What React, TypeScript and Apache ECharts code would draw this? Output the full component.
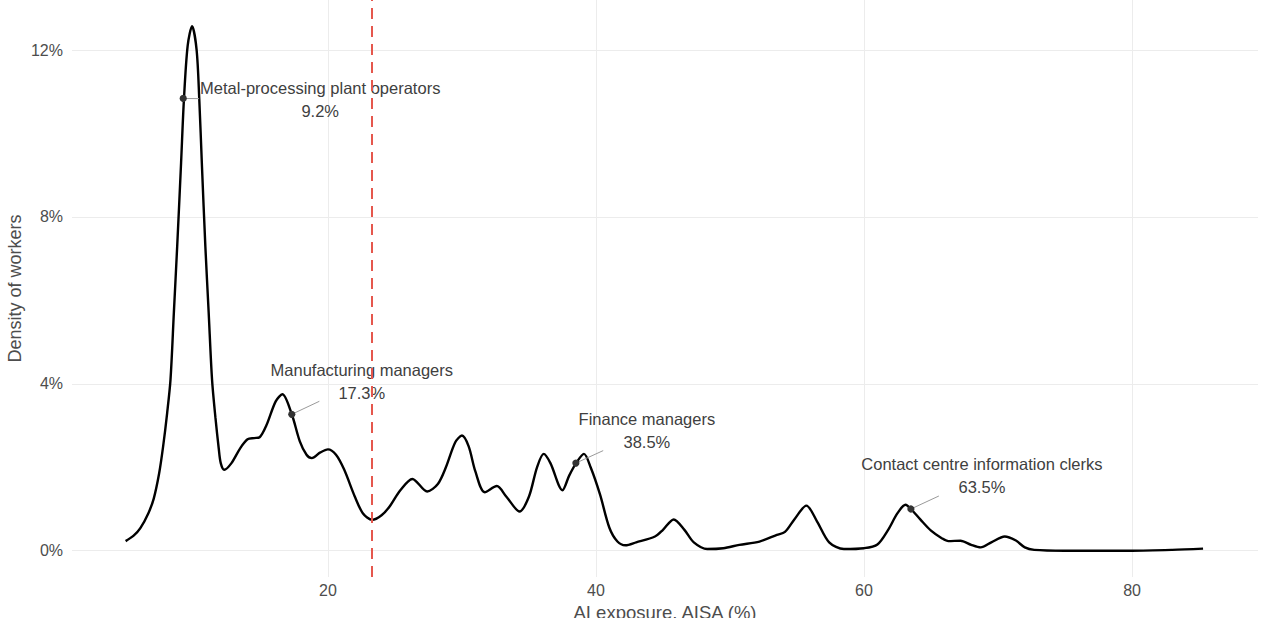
import React, { useEffect, useRef } from "react";
import * as echarts from "echarts";

// AI exposure grid (x) and density of workers in % (y)
const exposure = [
  4.9, 5.5, 6.0, 6.6, 7.0, 7.4, 7.7, 8.0, 8.25, 8.5, 8.75, 9.04, 9.25, 9.53, 9.86, 10.2, 10.4, 10.6,
  10.85, 11.1, 11.35, 11.6, 11.85, 12.0, 12.26, 12.8, 13.46, 14.0, 14.5, 14.9, 15.4, 16.1, 16.6, 17.3,
  17.9, 18.4, 18.8, 19.4, 20.0, 20.6, 21.2, 22.0, 22.6, 23.3, 24.0, 24.6, 25.4, 26.3, 27.4, 28.2,
  28.8, 29.5, 30.0, 30.5, 31.0, 31.7, 32.6, 33.3, 34.3, 35.0, 35.6, 36.1, 36.6, 37.5, 38.0, 38.6,
  39.1, 39.6, 40.3, 41.0, 41.6, 42.2, 43.0, 44.4, 45.0, 45.8, 46.6, 47.3, 48.3, 49.5, 50.7, 52.2,
  53.5, 54.1, 54.8, 55.7, 56.5, 57.4, 58.5, 60.0, 61.0, 61.8, 62.5, 63.1, 63.5, 64.2, 65.0, 65.8,
  66.3, 67.2, 68.0, 68.7, 69.5, 70.5, 71.3, 72.0, 72.7, 75.0, 80.0, 83.0, 85.3,
];
const density = [
  0.23, 0.36, 0.54, 0.9, 1.25, 1.85, 2.5, 3.3, 4.1, 5.7, 7.3, 9.3, 10.8, 12.1, 12.57, 12.0, 10.8, 9.2,
  7.3, 5.7, 4.1, 3.2, 2.45, 2.1, 1.94, 2.1, 2.46, 2.67, 2.7, 2.72, 3.0, 3.58, 3.75, 3.27,
  2.62, 2.3, 2.22, 2.35, 2.43, 2.3, 1.95, 1.3, 0.9, 0.74, 0.85, 1.06, 1.45, 1.72, 1.42, 1.6,
  2.0, 2.6, 2.76, 2.5, 1.9, 1.4, 1.55, 1.3, 0.94, 1.3, 2.0, 2.32, 2.1, 1.45, 1.8, 2.14,
  2.32, 2.0, 1.35, 0.55, 0.22, 0.13, 0.2, 0.34, 0.5, 0.75, 0.5, 0.2, 0.04, 0.06, 0.14, 0.22,
  0.38, 0.45, 0.75, 1.08, 0.7, 0.2, 0.04, 0.06, 0.15, 0.5, 0.9, 1.1, 1.0, 0.75, 0.48, 0.3,
  0.23, 0.24, 0.14, 0.08, 0.2, 0.34, 0.25, 0.08, 0.02, 0.0, 0.0, 0.02, 0.05,
];

// Highlighted occupations
const occupationNames = [
  "Metal-processing plant operators",
  "Manufacturing managers",
  "Finance managers",
  "Contact centre information clerks",
];
const occupationExposure = [9.2, 17.3, 38.5, 63.5];
const occupationDensity = [10.84, 3.27, 2.1, 1.0];

// Mean exposure (dashed line)
const meanExposure = 23.3;

// Axis ticks
const xTicks = [20, 40, 60, 80];
const yTicks = [0, 4, 8, 12];

// Label layout (pixel offsets from point to label centre)
const labelOffsets = [
  [137, 1.5],
  [70, -33],
  [71, -32.5],
  [71, -33],
];

const FONT = "'Liberation Sans', Arial, Helvetica, sans-serif";
const LABEL_SIZE = 16.5;

function measure(text: string): number {
  const c = document.createElement("canvas").getContext("2d");
  if (!c) return text.length * 8;
  c.font = `${LABEL_SIZE}px ${FONT}`;
  return c.measureText(text).width;
}

export default function App() {
  const ref = useRef<HTMLDivElement>(null);
  useEffect(() => {
    if (!ref.current) return;
    const chart = echarts.init(ref.current, null, { renderer: "svg" });
    const curve = exposure.map((x, i) => [x, density[i]]);
    const points = occupationExposure.map((x, i) => [x, occupationDensity[i]]);
    chart.setOption({
      animation: false,
      backgroundColor: "#ffffff",
      grid: { left: 72, right: 5, top: 0, bottom: 41, containLabel: false, outerBoundsMode: "none" },
      xAxis: {
        type: "value",
        min: 0.9,
        max: 89.4,
        name: "AI exposure, AISA (%)",
        nameLocation: "middle",
        nameGap: 24,
        nameTextStyle: { fontFamily: FONT, fontSize: 18.5, color: "#4d4d4d", verticalAlign: "top" },
        axisLine: { show: false },
        axisTick: { show: false, customValues: xTicks },
        axisLabel: {
          customValues: xTicks,
          fontFamily: FONT,
          fontSize: 16,
          color: "#4d4d4d",
          margin: 5,
        },
        splitLine: { show: true, lineStyle: { color: "#ececec", width: 1 } },
      },
      yAxis: {
        type: "value",
        min: -0.63,
        max: 13.2,
        name: "Density of workers",
        nameLocation: "middle",
        nameGap: 48,
        nameMoveOverlap: false,
        nameTextStyle: { fontFamily: FONT, fontSize: 18, color: "#4d4d4d" },
        axisLine: { show: false },
        axisTick: { show: false, customValues: yTicks },
        axisLabel: {
          customValues: yTicks,
          formatter: (v: number) => `${v}%`,
          fontFamily: FONT,
          fontSize: 16,
          color: "#4d4d4d",
          margin: 9,
        },
        splitLine: { show: true, lineStyle: { color: "#ececec", width: 1 } },
      },
      series: [
        {
          type: "line",
          data: curve,
          smooth: 0.3,
          showSymbol: false,
          symbol: "none",
          lineStyle: { color: "#000000", width: 2.4 },
          z: 3,
          markLine: {
            silent: true,
            symbol: "none",
            label: { show: false },
            lineStyle: { color: "#e5574d", width: 2, type: [11, 7], opacity: 1 },
            data: [{ xAxis: meanExposure }],
            z: 10,
          },
        },
        {
          type: "custom",
          data: points,
          z: 5,
          renderItem: (params: any, api: any) => {
            const i = params.dataIndex;
            const p = api.coord([api.value(0), api.value(1)]);
            const [dx, dy] = labelOffsets[i];
            const cx = p[0] + dx;
            const cy = p[1] + dy;
            const name = occupationNames[i];
            const pct = `${occupationExposure[i].toFixed(1)}%`;
            const w = Math.max(measure(name), measure(pct)) / 2 + 1;
            const h = 20;
            const f = Math.min(h / Math.max(Math.abs(dy), 1e-6), w / Math.max(Math.abs(dx), 1e-6));
            const t = Math.max(0, 1 - f);
            const ex = p[0] + dx * t;
            const ey = p[1] + dy * t;
            return {
              type: "group",
              children: [
                {
                  type: "line",
                  shape: { x1: p[0], y1: p[1], x2: ex, y2: ey },
                  style: { stroke: "#9a9a9a", lineWidth: 1 },
                },
                {
                  type: "circle",
                  shape: { cx: p[0], cy: p[1], r: 3.6 },
                  style: { fill: "#333333" },
                },
                {
                  type: "text",
                  x: cx,
                  y: cy,
                  style: {
                    text: `${name}\n${pct}`,
                    fontFamily: FONT,
                    fontSize: LABEL_SIZE,
                    lineHeight: 23,
                    fill: "#404040",
                    align: "center",
                    verticalAlign: "middle",
                  },
                },
              ],
            };
          },
        },
      ],
    });
    return () => chart.dispose();
  }, []);
  return (
    <div
      ref={ref}
      style={{ position: "fixed", left: 0, top: 0, width: "1263px", height: "618px" }}
    />
  );
}
